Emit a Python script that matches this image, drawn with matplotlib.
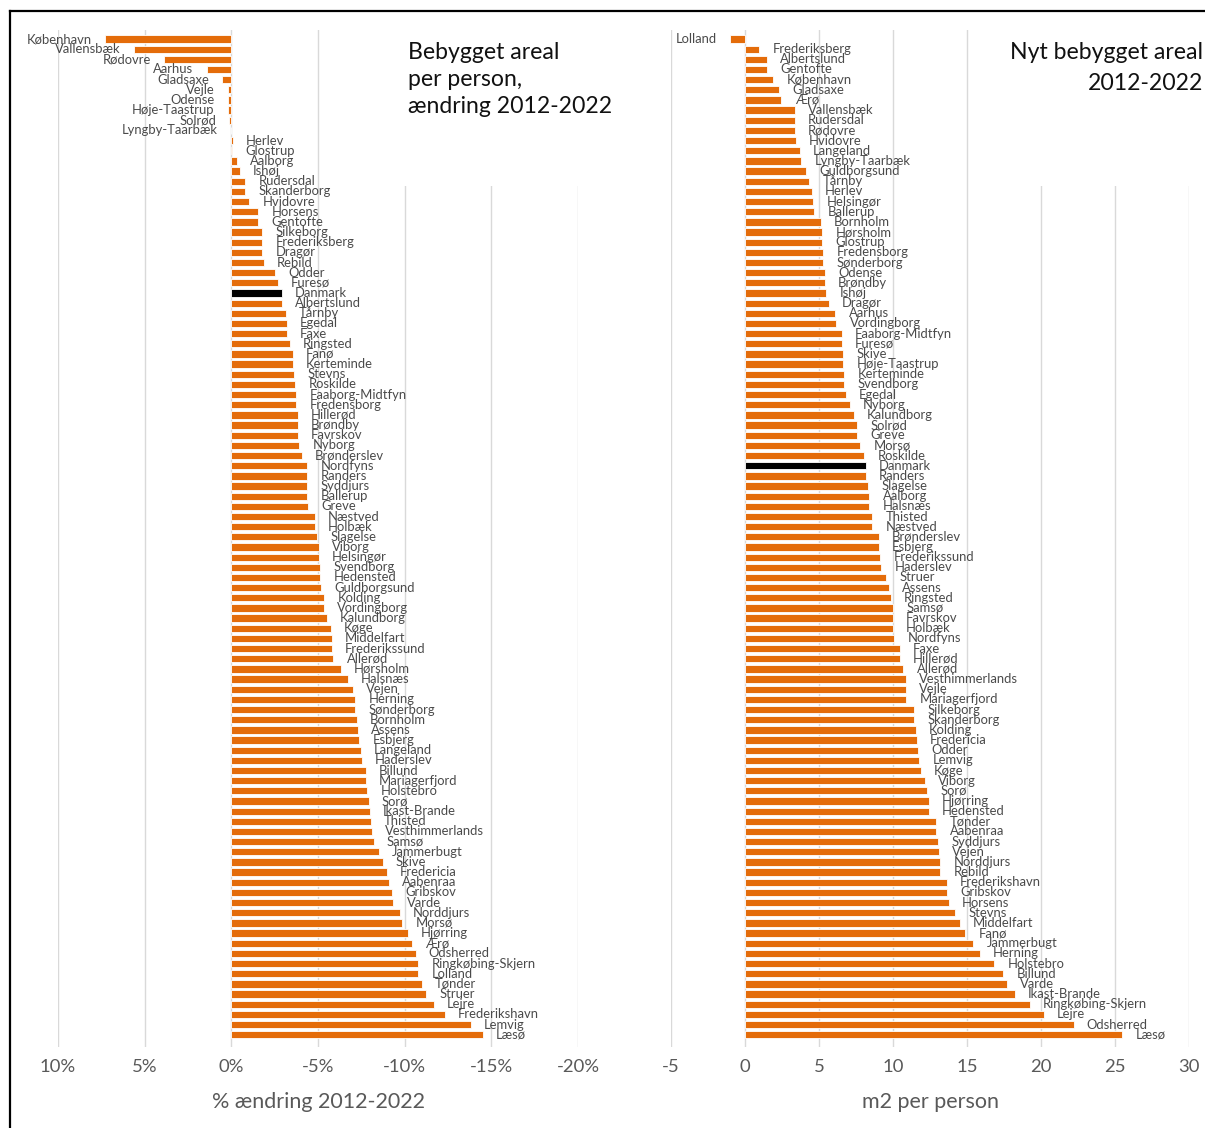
import matplotlib
matplotlib.use("Agg")
import matplotlib.pyplot as plt
import numpy as np
from matplotlib.patches import Rectangle
from matplotlib.lines import Line2D

plt.rcParams['font.family'] = ['Lato', 'DejaVu Sans']

# ---- data: change in built area per person 2012-2022 (%) ----
change_names = [
    "København", "Vallensbæk", "Rødovre", "Aarhus", "Gladsaxe", "Vejle", "Odense",
    "Høje-Taastrup", "Solrød", "Lyngby-Taarbæk", "Herlev", "Glostrup", "Aalborg",
    "Ishøj", "Rudersdal", "Skanderborg", "Hvidovre", "Horsens", "Gentofte",
    "Silkeborg", "Frederiksberg", "Dragør", "Rebild", "Odder", "Furesø", "Danmark",
    "Albertslund", "Tårnby", "Egedal", "Faxe", "Ringsted", "Fanø", "Kerteminde",
    "Stevns", "Roskilde", "Faaborg-Midtfyn", "Fredensborg", "Hillerød", "Brøndby",
    "Favrskov", "Nyborg", "Brønderslev", "Nordfyns", "Randers", "Syddjurs",
    "Ballerup", "Greve", "Næstved", "Holbæk", "Slagelse", "Viborg", "Helsingør",
    "Svendborg", "Hedensted", "Guldborgsund", "Kolding", "Vordingborg",
    "Kalundborg", "Køge", "Middelfart", "Frederikssund", "Allerød", "Hørsholm",
    "Halsnæs", "Vejen", "Herning", "Sønderborg", "Bornholm", "Assens", "Esbjerg",
    "Langeland", "Haderslev", "Billund", "Mariagerfjord", "Holstebro", "Sorø",
    "Ikast-Brande", "Thisted", "Vesthimmerlands", "Samsø", "Jammerbugt", "Skive",
    "Fredericia", "Aabenraa", "Gribskov", "Varde", "Norddjurs", "Morsø",
    "Hjørring", "Ærø", "Odsherred", "Ringkøbing-Skjern", "Lolland", "Tønder",
    "Struer", "Lejre", "Frederikshavn", "Lemvig", "Læsø",
]
change_pct = [
    7.3, 5.6, 3.87, 1.43, 0.54, 0.18, 0.18,
    0.2, 0.12, 0.03, -0.08, -0.06, -0.34,
    -0.5, -0.8, -0.8, -1.03, -1.55, -1.55,
    -1.79, -1.79, -1.79, -1.87, -2.54, -2.68, -2.92,
    -2.92, -3.13, -3.21, -3.21, -3.37, -3.53, -3.53,
    -3.61, -3.69, -3.75, -3.75, -3.83, -3.83,
    -3.83, -3.91, -4.07, -4.37, -4.37, -4.37,
    -4.37, -4.44, -4.82, -4.82, -4.96, -5.04, -5.04,
    -5.12, -5.12, -5.2, -5.36, -5.36,
    -5.52, -5.73, -5.81, -5.81, -5.89, -6.33,
    -6.71, -7.02, -7.16, -7.16, -7.24, -7.3, -7.38,
    -7.46, -7.54, -7.76, -7.76, -7.84, -7.92,
    -8.0, -8.06, -8.13, -8.21, -8.51, -8.73,
    -8.97, -9.11, -9.27, -9.35, -9.72, -9.86,
    -10.18, -10.4, -10.63, -10.79, -10.79, -10.99,
    -11.23, -11.69, -12.3, -13.81, -14.5,
]
change_ticks = [10, 5, 0, -5, -10, -15, -20]
change_ticklabels = ["10%", "5%", "0%", "-5%", "-10%", "-15%", "-20%"]

# ---- data: new built area 2012-2022 (m2 per person) ----
new_names = [
    "Lolland", "Frederiksberg", "Albertslund", "Gentofte", "København", "Gladsaxe",
    "Ærø", "Vallensbæk", "Rudersdal", "Rødovre", "Hvidovre", "Langeland",
    "Lyngby-Taarbæk", "Guldborgsund", "Tårnby", "Herlev", "Helsingør", "Ballerup",
    "Bornholm", "Hørsholm", "Glostrup", "Fredensborg", "Sønderborg", "Odense",
    "Brøndby", "Ishøj", "Dragør", "Aarhus", "Vordingborg", "Faaborg-Midtfyn",
    "Furesø", "Skive", "Høje-Taastrup", "Kerteminde", "Svendborg", "Egedal",
    "Nyborg", "Kalundborg", "Solrød", "Greve", "Morsø", "Roskilde", "Danmark",
    "Randers", "Slagelse", "Aalborg", "Halsnæs", "Thisted", "Næstved",
    "Brønderslev", "Esbjerg", "Frederikssund", "Haderslev", "Struer", "Assens",
    "Ringsted", "Samsø", "Favrskov", "Holbæk", "Nordfyns", "Faxe", "Hillerød",
    "Allerød", "Vesthimmerlands", "Vejle", "Mariagerfjord", "Silkeborg",
    "Skanderborg", "Kolding", "Fredericia", "Odder", "Lemvig", "Køge", "Viborg",
    "Sorø", "Hjørring", "Hedensted", "Tønder", "Aabenraa", "Syddjurs", "Vejen",
    "Norddjurs", "Rebild", "Frederikshavn", "Gribskov", "Horsens", "Stevns",
    "Middelfart", "Fanø", "Jammerbugt", "Herning", "Holstebro", "Billund",
    "Varde", "Ikast-Brande", "Ringkøbing-Skjern", "Lejre", "Odsherred", "Læsø",
]
new_m2 = [
    -1.0, 0.96, 1.5, 1.5, 1.92, 2.28,
    2.46, 3.36, 3.36, 3.36, 3.43, 3.71,
    3.8, 4.15, 4.34, 4.5, 4.6, 4.67,
    5.12, 5.21, 5.21, 5.3, 5.3, 5.4,
    5.4, 5.49, 5.66, 6.1, 6.17, 6.55,
    6.55, 6.64, 6.64, 6.71, 6.71, 6.81,
    7.09, 7.35, 7.6, 7.6, 7.79, 8.05, 8.15,
    8.15, 8.31, 8.4, 8.4, 8.59, 8.59,
    9.04, 9.04, 9.13, 9.2, 9.55, 9.74,
    9.84, 10.0, 10.0, 10.0, 10.09, 10.45, 10.45,
    10.7, 10.89, 10.89, 10.89, 11.43,
    11.43, 11.53, 11.62, 11.69, 11.78, 11.88, 12.14,
    12.32, 12.42, 12.42, 12.93, 12.93, 13.03, 13.12,
    13.19, 13.19, 13.64, 13.64, 13.78, 14.18,
    14.5, 14.88, 15.42, 15.85, 16.83, 17.46,
    17.7, 18.22, 19.23, 20.19, 22.2, 25.49,
]
new_ticks = [-5, 0, 5, 10, 15, 20, 25, 30]
new_ticklabels = ["-5", "0", "5", "10", "15", "20", "25", "30"]

highlight = "Danmark"

# ---- styling ----
ORANGE = "#E46C0A"
BLACK = "#000000"
GRID = "#D9D9D9"
LABEL = "#4A4A4A"
TICK = "#595959"

W, H = 1205, 1128
fig = plt.figure(figsize=(W / 100, H / 100), dpi=100)
fig.patch.set_facecolor("white")


def fx(px):
    return px / W


def fy(py):
    return 1 - py / H


top_px, bot_px = 30, 1047
row0_px, row_step = 39, 10.16


def make_panel(left_px, right_px, names, values, xlim, ticks, ticklabels, xlabel):
    ax = fig.add_axes([fx(left_px), fy(bot_px), (right_px - left_px) / W,
                       (bot_px - top_px) / H])
    n = len(names)
    y = np.arange(n)
    colors = [BLACK if nm == highlight else ORANGE for nm in names]
    ax.barh(y, values, height=0.72, color=colors, edgecolor="white",
            linewidth=0.6, zorder=2)
    ax.set_xlim(*xlim)
    ax.set_ylim((bot_px - row0_px) / row_step, (top_px - row0_px) / row_step)
    ax.set_xticks(ticks)
    ax.set_xticklabels(ticklabels)
    ax.tick_params(axis="x", length=0, pad=9, labelsize=13.3, labelcolor=TICK)
    ax.set_yticks([])
    for s in ax.spines.values():
        s.set_visible(False)
    ax.xaxis.grid(True, color=GRID, linewidth=1.0, zorder=0)
    ax.set_axisbelow(True)
    ax.set_xlabel(xlabel, fontsize=15.5, color=TICK, labelpad=12)

    inverted = xlim[0] > xlim[1]
    for yi, nm, v in zip(y, names, values):
        # which screen side the bar extends to
        goes_right = (v < 0) if inverted else (v >= 0)
        off = 9.5 if goes_right else -9.5
        ax.annotate(nm, xy=(v, yi), xytext=(off, 0), textcoords="offset points",
                    ha="left" if goes_right else "right", va="center",
                    fontsize=9.4, color=LABEL, zorder=3)
    return ax


ax1 = make_panel(58, 578, change_names, change_pct, (10, -20),
                 change_ticks, change_ticklabels, "% ændring 2012-2022")
ax2 = make_panel(671, 1189, new_names, new_m2, (-5, 30),
                 new_ticks, new_ticklabels, "m2 per person")

# white boxes behind the panel titles
for x0, x1 in [(395, 610), (985, 1205)]:
    fig.add_artist(Rectangle((fx(x0), fy(186)), (x1 - x0) / W, (186 - 26) / H,
                             transform=fig.transFigure, facecolor="white",
                             edgecolor="none", zorder=1))

fig.text(fx(408), fy(42), "Bebygget areal\nper person,\nændring 2012-2022",
         ha="left", va="top", fontsize=16.6, linespacing=1.36, color="#111111",
         zorder=4)
fig.text(fx(1203), fy(42), "Nyt bebygget areal\n2012-2022",
         ha="right", va="top", multialignment="right", fontsize=16.6,
         linespacing=1.6, color="#111111", zorder=4)

# frame lines along top and left edge
fig.add_artist(Line2D([fx(10), 1.0], [fy(11), fy(11)], color="black",
                      linewidth=1.6, transform=fig.transFigure, zorder=5))
fig.add_artist(Line2D([fx(10), fx(10)], [fy(11), 0.0], color="black",
                      linewidth=1.6, transform=fig.transFigure, zorder=5))

fig.savefig("out.png", dpi=100, facecolor="white")
